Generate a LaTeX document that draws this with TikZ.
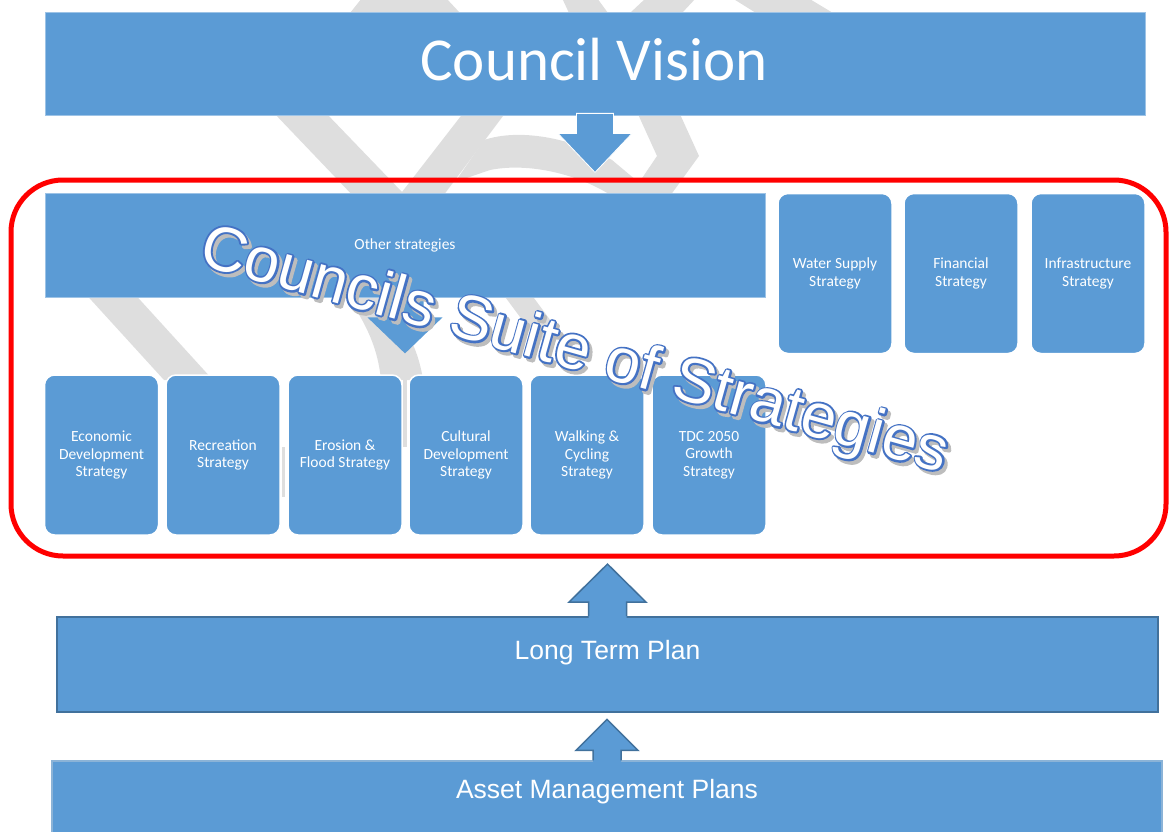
\documentclass[tikz,border=0pt]{standalone}
\usepackage{fontspec}
\usetikzlibrary{calc,decorations.text}

\newfontfamily\calibrilike{Carlito}
\newfontfamily\arialike{Liberation Sans}

\definecolor{boxblue}{HTML}{5B9BD5}
\definecolor{darkedge}{HTML}{41719C}
\definecolor{lightedge}{HTML}{9DC3E6}
\definecolor{wmgrey}{HTML}{DEDEDE}
\definecolor{framered}{HTML}{FF0000}
\definecolor{waout}{HTML}{4472C4}
\definecolor{washadow}{HTML}{BDBDBD}

\newcommand\tilefont{\calibrilike\fontsize{15.5}{17.5}\selectfont}
\newcommand\wafont{\arialike\fontsize{63}{63}\selectfont}
% glyphs filled and stroked (text render mode 2) with a blue or grey stroke
\newcommand\bluestroke{\special{pdf:literal direct 2 Tr 3.8 w 1 j 0.267 0.447 0.769 RG}}
\newcommand\greystroke{\special{pdf:literal direct 2 Tr 3.8 w 1 j 0.74 0.74 0.74 RG}}

\tikzset{
  wm/.style={fill=wmgrey},
  wide/.style={rectangle, fill=boxblue, draw=lightedge, line width=0.8pt,
    text=white, inner sep=0pt},
  tile/.style={rectangle, rounded corners=10pt, fill=boxblue, draw=white,
    line width=1.5pt, minimum width=114pt, minimum height=160pt,
    text=white, align=center, font=\tilefont, inner sep=2pt},
  plan/.style={rectangle, fill=boxblue, draw=darkedge, line width=1.8pt, inner sep=0pt},
  planlabel/.style={text=white, inner sep=0pt, anchor=base,
    font=\arialike\fontsize{26.5}{30}\selectfont},
  arrowfill/.style={fill=boxblue},
  arrowedge/.style={draw=darkedge, line width=1.5pt, line join=miter},
  suiteframe/.style={rectangle, draw=framered, line width=5pt,
    rounded corners=52pt, inner sep=0pt},
}

\begin{document}
\begin{tikzpicture}[x=1pt,y=-1pt]
\useasboundingbox (0,0) rectangle (1170,832);

% faint grey logo in the background
\fill[wm] (362,-2) -- (446,-2) -- (460,13) -- (350,13) -- cycle;
\fill[wm] (562,-2) -- (597,-2) -- (608,13) -- (569,13) -- cycle;
\fill[wm] (646,-2) -- (696,-2) -- (682,13) -- (630,13) -- cycle;
\fill[wm] (732,-2) -- (808,-2) -- (833,13) -- (756,13) -- cycle;
\fill[wm] (273,112) -- (325,112) -- (402,192) -- (464,112) -- (506,112)
  -- (440,200) -- (402,215) -- (357,200) -- cycle;
\fill[wm] (484,140) .. controls (520,128) and (570,138) .. (612,160)
  -- (655,196) -- (612,196) .. controls (580,175) and (530,162) .. (490,170)
  -- (455,182) -- cycle;
\fill[wm] (637,112) -- (679,112) -- (699,156) -- (670,196) -- (630,196)
  -- (657,156) -- cycle;
\fill[wm] (82,290) -- (131,290) -- (213,380) -- (164,380) -- cycle;
\fill[wm] (343,290) .. controls (368,325) and (378,350) .. (381,380)
  -- (423,380) .. controls (418,345) and (400,315) .. (375,290) -- cycle;
\fill[wm] (500,290) -- (528,290) -- (565,340) -- (537,340) -- cycle;
\fill[wm] (282,447) rectangle (285,497);
\fill[wm] (403,370) rectangle (407,447);

% top level
\node[wide, minimum width=1100pt, minimum height=103pt] (cv) at (595,63.5) {};
\node[text=white, inner sep=0pt, anchor=base,
  font=\calibrilike\fontsize{61}{70}\selectfont] (cvtext) at (594,81) {Council Vision};

% suite of strategies
\node[wide, minimum width=720pt, minimum height=104pt,
  font=\calibrilike\fontsize{15.5}{17.5}\selectfont] (os) at (405,245) {Other strategies};

\node[tile] (water) at (835,273.5) {Water Supply\\Strategy};
\node[tile] (fin)   at (961,273.5) {Financial\\Strategy};
\node[tile] (infra) at (1088,273.5) {Infrastructure\\Strategy};

\node[tile] (econ) at (101.5,455) {Economic\\Development\\Strategy};
\node[tile] (rec)  at (223,455)   {Recreation\\Strategy};
\node[tile] (ero)  at (345,455)   {Erosion \&\\Flood Strategy};
\node[tile] (cult) at (466,455)   {Cultural\\Development\\Strategy};
\node[tile] (walk) at (587,455)   {Walking \&\\Cycling\\Strategy};
\node[tile] (tdc)  at (709,455)   {TDC 2050\\Growth\\Strategy};

% arrow from the vision into the suite
\filldraw[arrowfill, draw=white, line width=0.8pt]
  ($(cv.south)+(-18.5,-2)$) -- ($(cv.south)+(18.5,-2)$) -- ($(cv.south)+(18.5,18)$)
  -- ($(cv.south)+(37,18)$) -- ($(cv.south)+(0,57)$) -- ($(cv.south)+(-37,18)$)
  -- ($(cv.south)+(-18.5,18)$) -- cycle;

% arrow from other strategies down to the individual strategies
\fill[arrowfill]
  ($(os.south)+(-18.5,-2)$) -- ($(os.south)+(18.5,-2)$) -- ($(os.south)+(18.5,20)$)
  -- ($(os.south)+(37.5,20)$) -- ($(os.south)+(0,56)$) -- ($(os.south)+(-37.5,20)$)
  -- ($(os.south)+(-18.5,20)$) -- cycle;

% frame round the suite
\node[suiteframe, minimum width=1155pt, minimum height=376pt] (suite) at (588.5,368) {};

% plans
\node[plan, minimum width=1101pt, minimum height=95pt] (ltp) at (607.5,664.5) {};
\node[planlabel] (ltptext) at (607.5,659) {Long Term Plan};
\node[plan, draw=lightedge!80!darkedge, line width=1.2pt,
  minimum width=1110pt, minimum height=90pt] (amp) at (607,806) {};
\node[planlabel] (amptext) at (607,798) {Asset Management Plans};

% block arrows pointing up
\fill[arrowfill]
  ($(ltp.north)+(-19,2)$) -- ($(ltp.north)+(-19,-14)$) -- ($(ltp.north)+(-38.5,-14)$)
  -- ($(ltp.north)+(0,-52)$) -- ($(ltp.north)+(38.5,-14)$) -- ($(ltp.north)+(19,-14)$)
  -- ($(ltp.north)+(19,2)$) -- cycle;
\draw[arrowedge]
  ($(ltp.north)+(-19,0)$) -- ($(ltp.north)+(-19,-14)$) -- ($(ltp.north)+(-38.5,-14)$)
  -- ($(ltp.north)+(0,-52)$) -- ($(ltp.north)+(38.5,-14)$) -- ($(ltp.north)+(19,-14)$)
  -- ($(ltp.north)+(19,0)$);

\fill[arrowfill]
  ($(amp.north)+(-14,2)$) -- ($(amp.north)+(-14,-10)$) -- ($(amp.north)+(-31,-10)$)
  -- ($(amp.north)+(0,-41)$) -- ($(amp.north)+(31,-10)$) -- ($(amp.north)+(14,-10)$)
  -- ($(amp.north)+(14,2)$) -- cycle;
\draw[arrowedge]
  ($(amp.north)+(-14,0)$) -- ($(amp.north)+(-14,-10)$) -- ($(amp.north)+(-31,-10)$)
  -- ($(amp.north)+(0,-41)$) -- ($(amp.north)+(31,-10)$) -- ($(amp.north)+(14,-10)$)
  -- ($(amp.north)+(14,0)$);

% outlined title set along a slanted line: shadow, blue rim, white letters
\path[decorate, shift={(3,3.5)},
  decoration={text along path,
    text={|\wafont\color{washadow}\greystroke|Councils Suite of Strategies}}]
  (197,264) -- (997,488);
\path[decorate,
  decoration={text along path,
    text={|\wafont\color{waout}\bluestroke|Councils Suite of Strategies}}]
  (197,264) -- (997,488);
\path[decorate,
  decoration={text along path,
    text={|\wafont\color{white}|Councils Suite of Strategies}}]
  (197,264) -- (997,488);

\end{tikzpicture}
\end{document}
